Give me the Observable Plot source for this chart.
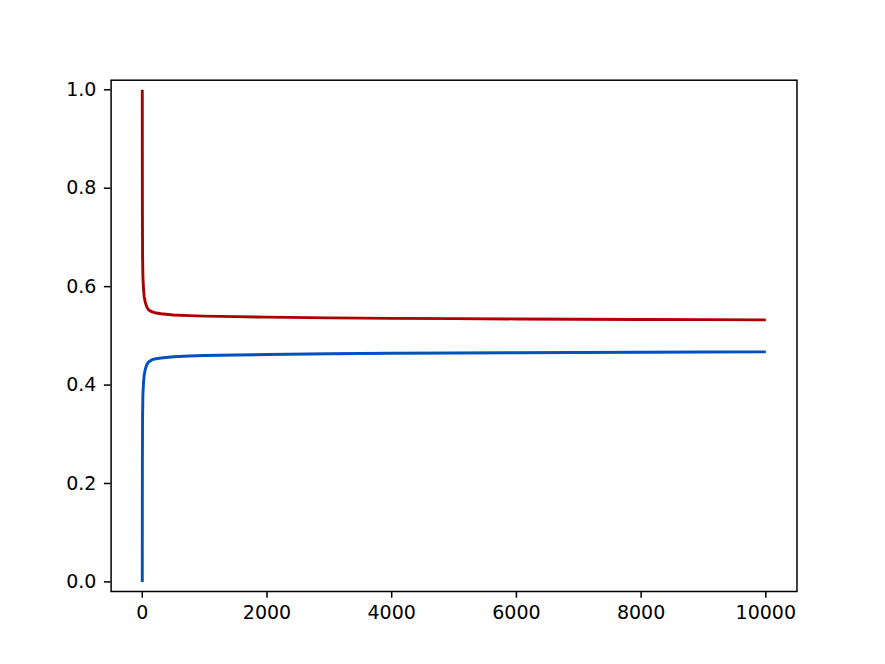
<!DOCTYPE html>
<html>
<head>
<meta charset="utf-8">
<script src="https://cdn.jsdelivr.net/npm/d3@7"></script>
<script src="https://cdn.jsdelivr.net/npm/@observablehq/plot@0.6"></script>
<style>
  html, body { margin: 0; padding: 0; background: #fff; }
  #chart { width: 885px; height: 664px; }
</style>
</head>
<body>
<div id="chart"></div>
<script>
// iteration index (x)
const steps = [0, 1, 2, 5, 10, 20, 30, 50, 75, 100, 150, 200, 300, 500, 750, 1000, 1500, 2000, 3000, 4000, 5000, 6000, 7000, 8000, 9000, 10000];
// red series (starts at 1.0, decays toward ~0.53)
const redValues = [1.0, 0.83, 0.75, 0.66, 0.62, 0.595, 0.58, 0.567, 0.558, 0.553, 0.549, 0.547, 0.545, 0.5425, 0.541, 0.540, 0.539, 0.538, 0.5365, 0.5355, 0.535, 0.5343, 0.5338, 0.5333, 0.5329, 0.5325];
// blue series (starts at 0.0, rises toward ~0.47)
const blueValues = [0.0, 0.17, 0.25, 0.34, 0.38, 0.405, 0.42, 0.433, 0.442, 0.447, 0.451, 0.453, 0.455, 0.4575, 0.459, 0.460, 0.461, 0.462, 0.4635, 0.4645, 0.465, 0.4657, 0.4662, 0.4667, 0.4671, 0.4675];
const xTicks = [0, 2000, 4000, 6000, 8000, 10000];
const yTicks = [0.0, 0.2, 0.4, 0.6, 0.8, 1.0];

const red = steps.map((x, i) => ({x, y: redValues[i]}));
const blue = steps.map((x, i) => ({x, y: blueValues[i]}));

const font = "DejaVu Sans, sans-serif";
const chart = Plot.plot({
  width: 885,
  height: 664,
  marginLeft: 110.6,
  marginRight: 88.5,
  marginTop: 79.7,
  marginBottom: 73,
  style: {background: "#fff", fontFamily: font, fontSize: "19px", color: "#000"},
  x: {domain: [-500, 10500]},
  y: {domain: [-0.0195, 1.0195]},
  marks: [
    Plot.line(blue, {x: "x", y: "y", stroke: "#0050bf", strokeWidth: 2.9, strokeLinejoin: "round", strokeLinecap: "butt"}),
    Plot.line(red, {x: "x", y: "y", stroke: "#aa0000", strokeWidth: 2.9, strokeLinejoin: "round", strokeLinecap: "butt"}),
    Plot.frame({stroke: "#000", strokeWidth: 1.5}),
    Plot.axisX({ticks: xTicks, tickFormat: d => String(d), tickSize: 6.7, tickPadding: 7, label: null, stroke: "#000", strokeWidth: 1.5, fontSize: 19, fill: "#000"}),
    Plot.axisY({ticks: yTicks, tickFormat: d => d.toFixed(1), tickSize: 6.7, tickPadding: 8, label: null, stroke: "#000", strokeWidth: 1.5, fontSize: 19, fill: "#000"})
  ]
});
document.getElementById("chart").appendChild(chart);
</script>
</body>
</html>
